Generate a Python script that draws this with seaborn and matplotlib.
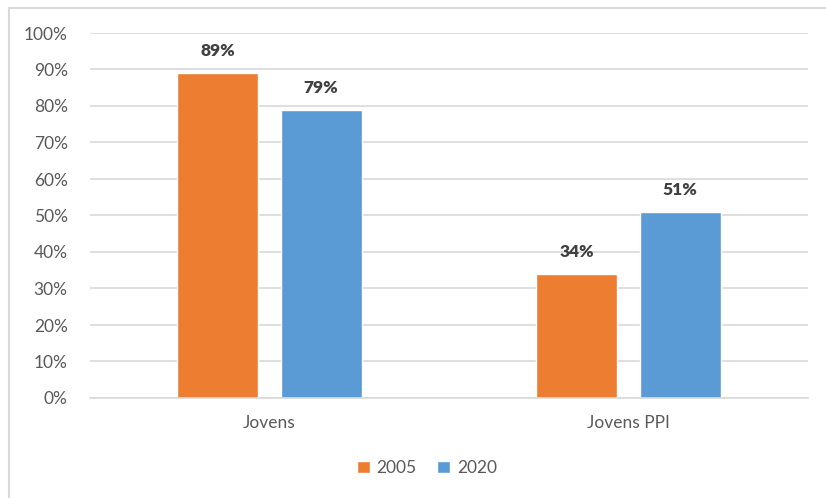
import matplotlib
matplotlib.use("Agg")
import matplotlib.pyplot as plt
import seaborn as sns
import pandas as pd
from matplotlib.lines import Line2D
from matplotlib.ticker import PercentFormatter

categories = ["Jovens", "Jovens PPI"]
years = ["2005", "2020"]
values_2005 = [0.89, 0.34]
values_2020 = [0.79, 0.51]
y_ticks = [0, 0.1, 0.2, 0.3, 0.4, 0.5, 0.6, 0.7, 0.8, 0.9, 1.0]

df = pd.DataFrame({
    "cat": categories * 2,
    "year": [years[0]] * 2 + [years[1]] * 2,
    "val": values_2005 + values_2020,
})

sns.set_theme(style="white")
plt.rcParams["font.family"] = ["Lato", "DejaVu Sans"]

fig = plt.figure(figsize=(8.26, 4.98), dpi=100)
ax = fig.add_axes([90/826, 1-398/498, (808-90)/826, (398-33)/498])

palette = {"2005": "#ED7D31", "2020": "#5B9BD5"}
sns.barplot(data=df, x="cat", y="val", hue="year", palette=palette,
            width=0.574, gap=0.214, ax=ax, saturation=1, legend=True)

ax.set_xlim(-0.5, 1.5)
ax.set_ylim(0, 1.0)
ax.set_yticks(y_ticks)
ax.yaxis.set_major_formatter(PercentFormatter(1.0, decimals=0))
ax.grid(axis="y", color="#D9D9D9", linewidth=1.2)
ax.set_axisbelow(True)
for s in ["top", "right", "left"]:
    ax.spines[s].set_visible(False)
ax.spines["bottom"].set_color("#D9D9D9")
ax.spines["bottom"].set_linewidth(1.2)
ax.set_xlabel("")
ax.set_ylabel("")
ax.tick_params(axis="both", length=0, labelsize=12.5, colors="#595959")
ax.tick_params(axis="y", pad=16)
ax.tick_params(axis="x", pad=12)

for c in ax.containers:
    ax.bar_label(c, labels=[f"{v*100:.0f}%" for v in c.datavalues],
                 padding=10, fontsize=12.5, fontweight="heavy", color="#404040")

handles, labels = ax.get_legend_handles_labels()
ax.legend_.remove()
fig.legend(handles, labels, loc="center", bbox_to_anchor=(427/826, 1-468/498),
           ncol=2, frameon=False, fontsize=12.5, handlelength=0.75, handleheight=0.75,
           handletextpad=0.4, columnspacing=1.2, labelcolor="#595959")

# light gray frame (left and top edges visible)
fig.add_artist(Line2D([9/826, 9/826], [0, 1-8/498], transform=fig.transFigure,
                      color="#D9D9D9", linewidth=1.5))
fig.add_artist(Line2D([9/826, 1], [1-8/498, 1-8/498], transform=fig.transFigure,
                      color="#D9D9D9", linewidth=1.5))

fig.savefig("out.png", dpi=100)
